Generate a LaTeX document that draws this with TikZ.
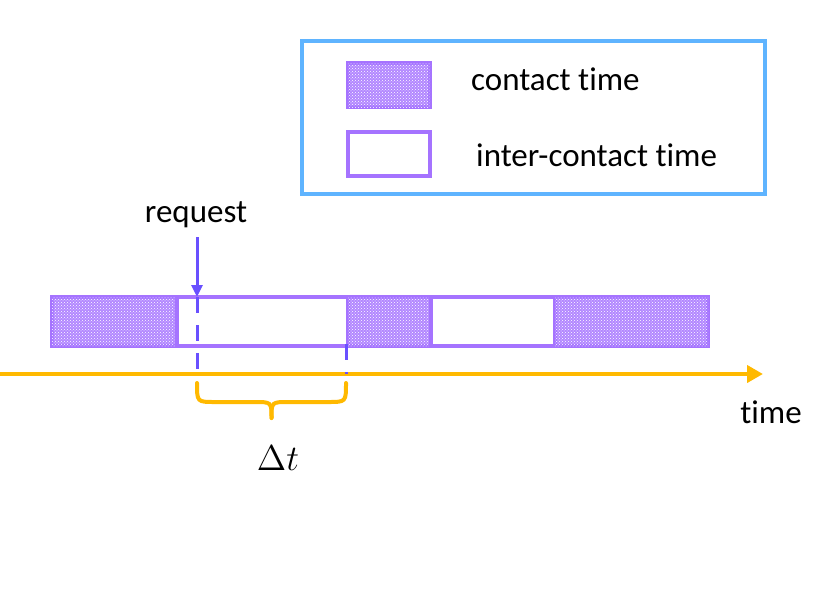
\documentclass[tikz,border=0pt]{standalone}
\usepackage{fontspec}
\setmainfont[Ligatures=NoCommon]{Carlito}
\usetikzlibrary{patterns,arrows.meta}
\definecolor{barpurple}{RGB}{165,115,255}
\definecolor{dotfill}{RGB}{178,135,255}
\definecolor{arrowblue}{RGB}{105,80,255}
\definecolor{legblue}{RGB}{95,180,255}
\definecolor{axisorange}{RGB}{255,185,0}
\begin{document}
\begin{tikzpicture}[x=1pt,y=-1pt,
  seg/.style={draw=barpurple,line width=4pt,inner sep=0pt,anchor=north west,minimum height=49pt},
  contact/.style={seg,fill=dotfill,postaction={pattern=crosshatch dots,pattern color=white}},
  inter/.style={seg,fill=white},
  lbl/.style={font=\fontsize{33}{38}\selectfont,inner sep=0pt},
  reqline/.style={draw=arrowblue,line width=3pt},
  orange/.style={draw=axisorange,line width=4.5pt}]
\useasboundingbox (0,0) rectangle (830,592);
% legend
\node[draw=legblue,line width=4pt,minimum width=463pt,minimum height=153pt,anchor=north west,inner sep=0pt] (legend) at (300,39) {};
\node[contact,minimum width=82pt,minimum height=44pt] (sw1) at (346,61) {};
\node[inter,minimum width=82pt,minimum height=44pt] (sw2) at (346,130) {};
\node[lbl,anchor=west] (t1) at (471,79) {contact time};
\node[lbl,anchor=west] (t2) at (476,155) {inter-contact time};
% bar
\node[contact,minimum width=125pt] (s1) at (50,295) {};
\node[inter,minimum width=171pt] (s2) at (175,295) {};
\node[contact,minimum width=83pt] (s3) at (346,295) {};
\node[inter,minimum width=124pt] (s4) at (429,295) {};
\node[contact,minimum width=153pt] (s5) at (553,295) {};
% axis
\coordinate (ax0) at (0,374);
\coordinate (ax1) at (763,374);
\draw[orange,-{Triangle[length=16pt,width=17pt]}] (ax0) -- (ax1);
\node[lbl] (time) at (771,412) {time};
% request
\node[lbl] (req) at (196,215) {request};
\coordinate (rtop) at (197,237);
\coordinate (rtip) at (197,297);
\coordinate (rbot) at (197,374);
\draw[reqline,-{Triangle[length=12pt,width=11pt]}] (rtop) -- (rtip);
\draw[reqline,dash pattern=on 16pt off 12pt] (rtip) -- (rbot);
\coordinate (d2top) at (346,344);
\coordinate (d2bot) at (346,374);
\draw[reqline,dash pattern=on 16pt off 12pt] (d2top) -- (d2bot);
% brace
\coordinate (bl) at (197,383);
\coordinate (br) at (346,383);
\coordinate (bm) at (271.5,418);
\draw[orange,line width=4pt,line cap=round] (bl) .. controls (197,402) .. (215,402) -- (254,402) .. controls (271.5,402) .. (bm);
\draw[orange,line width=4pt,line cap=round] (br) .. controls (346,402) .. (328,402) -- (289,402) .. controls (271.5,402) .. (bm);
\node[font=\fontsize{12}{14}\selectfont,scale=3,inner sep=0pt] (dt) at (278,458) {$\Delta t$};
\end{tikzpicture}
\end{document}
